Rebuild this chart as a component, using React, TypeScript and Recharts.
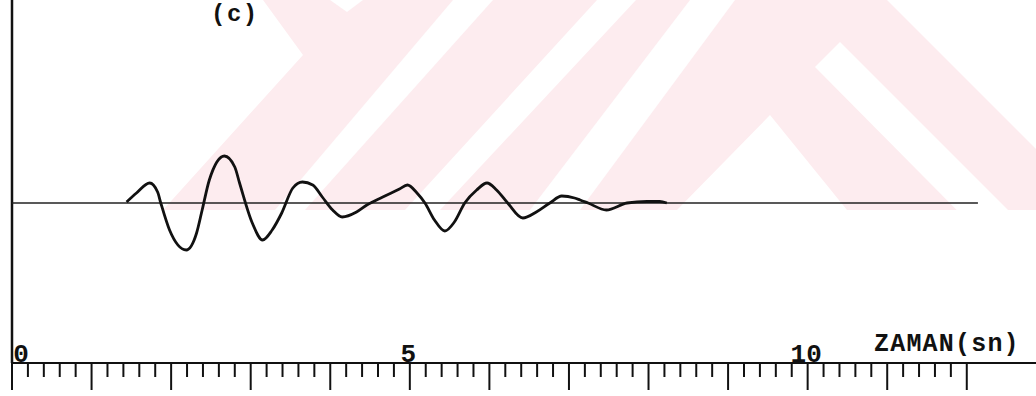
import { Customized, Line, LineChart, ReferenceLine, XAxis, YAxis } from 'recharts';

// record time (s) and trace amplitude (arbitrary units)
const time = [
  1.44, 1.565, 1.73, 1.83, 1.87, 1.98, 2.19, 2.32, 2.39, 2.48, 2.67, 2.8, 2.86, 3.02, 3.15, 3.27, 3.39, 3.53,
  3.65, 3.78, 3.9, 4.03, 4.15, 4.33, 4.46, 4.66, 4.87, 4.97, 5.09, 5.19, 5.31, 5.44, 5.56, 5.69, 5.84, 5.97,
  6.09, 6.23, 6.42, 6.59, 6.76, 6.91, 7.07, 7.14, 7.24, 7.47, 7.73, 7.98, 8.14, 8.23,
];
const amplitude = [
  0.1, 1.0, 2.0, 1.1, 0, -2.7, -4.7, -3.0, -0.7, 2.3, 4.7, 3.6, 2.0, -2.0, -3.7, -2.7, -1.0, 1.5,
  2.1, 1.8, 0.6, -0.7, -1.4, -0.9, -0.2, 0.6, 1.4, 1.8, 1.0, 0, -1.7, -2.8, -1.9, 0, 1.3, 2.0,
  1.3, 0, -1.5, -0.9, 0, 0.7, 0.5, 0.3, 0, -0.7, 0, 0.15, 0.15, 0,
];

const majorTicks = [0, 1, 2, 3, 4, 5, 6, 7, 8, 9, 10, 11, 12];
const labelledTicks = [0, 5, 10];
const MINOR_STEP = 0.2;
const BASELINE_END = 12.14;
const X_MAX = 12.87;
const Y_DOMAIN: [number, number] = [-16, 20.3];

const data = time.map((t, i) => ({ t, v: amplitude[i] }));

// ruler ticks: every 0.2 s between the whole seconds
const rulerTicks = majorTicks.flatMap((m, i) =>
  i === majorTicks.length - 1 ? [m] : [0, 1, 2, 3, 4].map((k) => Math.round((m + k * MINOR_STEP) * 10) / 10)
);

const FONT = "'Courier New', 'Liberation Mono', monospace";
const INK = '#111';

const RulerTick = (props: any) => {
  const { x, y, payload } = props;
  const value = payload.value as number;
  const major = Number.isInteger(value);
  const showLabel = major && labelledTicks.includes(value);
  return (
    <g>
      <line x1={x} x2={x} y1={y} y2={y + (major ? 27 : 14)} stroke={INK} strokeWidth={2} />
      {showLabel && (
        <text
          x={value === 0 ? x + 9 : x - 1.5}
          y={y - 1}
          textAnchor="middle"
          fontFamily={FONT}
          fontWeight="bold"
          fontSize={26}
          fill={INK}
        >
          {value}
        </text>
      )}
    </g>
  );
};

const Titles = () => (
  <g fontFamily={FONT} fontWeight="bold" fill={INK}>
    <text x={874} y={351} fontSize={25} letterSpacing={1.2}>
      ZAMAN(sn)
    </text>
    <text x={211} y={21} fontSize={24} letterSpacing={1.5}>
      (c)
    </text>
  </g>
);

// faint pink stamp printed behind the figure
const Stamp = () => (
  <svg width={1036} height={396} style={{ position: 'absolute', left: 0, top: 0 }}>
    <polygon points="263,0 887,0 1036,149 1036,210 163,210 303,55" fill="#fdecef" />
    <g fill="#fff">
      <polygon points="330,0 363,0 347,12" />
      <polygon points="453,0 493,0 305,210 275,210" />
      <polygon points="597,0 636,0 440,210 405,210" />
      <polygon points="690,0 735,0 580,210 530,210" />
      <polygon points="840,42 1036,238 1036,290 815,67" />
      <polygon points="770,115 847,210 677,210" />
    </g>
  </svg>
);

export default function App() {
  return (
    <div style={{ position: 'absolute', left: 0, top: 0, width: 1036, height: 396, background: '#fff', overflow: 'hidden' }}>
      <Stamp />
      <LineChart width={1036} height={396} data={data} margin={{ top: 0, right: 0, bottom: 0, left: 12 }}>
        <XAxis
          dataKey="t"
          type="number"
          domain={[0, X_MAX]}
          ticks={rulerTicks}
          interval={0}
          height={33}
          tickLine={false}
          tickSize={0}
          tickMargin={0}
          tick={<RulerTick />}
          axisLine={{ stroke: INK, strokeWidth: 2 }}
          allowDataOverflow
        />
        <YAxis type="number" domain={Y_DOMAIN} hide allowDataOverflow />
        {/* left-hand vertical axis */}
        <ReferenceLine x={0} stroke={INK} strokeWidth={2.5} />
        <ReferenceLine
          segment={[
            { x: 0, y: 0 },
            { x: BASELINE_END, y: 0 },
          ]}
          stroke="#222"
          strokeWidth={1.6}
        />
        <Line
          type="monotone"
          dataKey="v"
          stroke={INK}
          strokeWidth={2.8}
          dot={false}
          isAnimationActive={false}
        />
        <Customized component={Titles} />
      </LineChart>
    </div>
  );
}
